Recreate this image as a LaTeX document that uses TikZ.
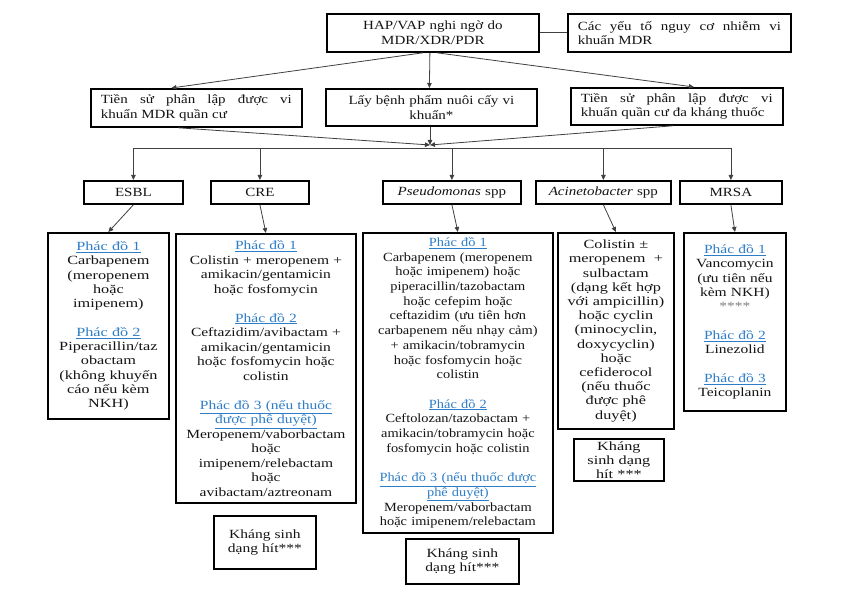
\documentclass[tikz,border=0pt]{standalone}
\usepackage{fontspec}
\setmainfont{Liberation Serif}[FakeStretch=1.15]
\newfontfamily\fS{Liberation Serif}[FakeStretch=1.2]
\newfontfamily\fC{Liberation Serif}[FakeStretch=1.24]
\newfontfamily\fE{Liberation Serif}[FakeStretch=1.3]
\usetikzlibrary{arrows.meta}
\definecolor{phblue}{RGB}{46,125,200}
\definecolor{txt}{RGB}{20,20,20}
\newcommand{\ph}[1]{\textcolor{phblue}{\underline{#1}}}
\begin{document}
\begin{tikzpicture}[x=1pt,y=-1pt,
  box/.style={draw=black, line width=1.8pt, inner xsep=5pt, inner ysep=2pt,
    font=\fontsize{12.5}{14.5}\selectfont, text=txt, align=center, anchor=north west},
  sbox/.style={box, font=\fontsize{12.5}{14.5}\selectfont\fS},
  wbox/.style={sbox, inner xsep=10pt, align=justify},
  arr/.style={draw=black!75, line width=0.8pt, -{Triangle[length=5pt,width=4.5pt]}},
  ln/.style={draw=black!75, line width=0.8pt}]
\useasboundingbox[fill=white] (0,0) rectangle (847,593);

% row 1
\node[sbox, minimum width=212, minimum height=38, text width=202] (hap) at (326,13)
  {HAP/VAP nghi ngờ do\\MDR/XDR/PDR};
\node[wbox, minimum width=223, minimum height=38, text width=203] (risk) at (567,13)
  {Các yếu tố nguy cơ nhiễm vi\linebreak khuẩn MDR};

% row 2
\node[wbox, minimum width=211, minimum height=38, text width=191] (l2) at (90,88)
  {Tiền sử phân lập được vi\linebreak khuẩn MDR quần cư};
\node[sbox, minimum width=211, minimum height=37, text width=201] (m2) at (325,88)
  {Lấy bệnh phẩm nuôi cấy vi\\khuẩn*};
\node[wbox, minimum width=212, minimum height=37, text width=192] (r2) at (570,87)
  {Tiền sử phân lập được vi\linebreak khuẩn quần cư đa kháng thuốc};

% junction and bus
\coordinate (J) at (430,145);
\coordinate (busY) at (0,148);

% row 3
\node[sbox, minimum width=99, minimum height=23, text width=89] (esbl) at (83,180) {ESBL};
\node[sbox, minimum width=98, minimum height=23, text width=88] (cre) at (210,180) {CRE};
\node[sbox, minimum width=138, minimum height=23, text width=128] (pse) at (382,180) {\textit{Pseudomonas} spp};
\node[sbox, minimum width=135, minimum height=23, text width=125] (aci) at (535,180) {\textit{Acinetobacter} spp};
\node[sbox, minimum width=102, minimum height=23, text width=92] (mrsa) at (679,180) {MRSA};

% row 4
\node[box, font=\fontsize{12.5}{14.3}\selectfont\fE, minimum width=121, minimum height=186, text width=111] (esblc) at (47,232)
  {\ph{Phác đồ 1}\\Carbapenem\\(meropenem\\hoặc\\imipenem)\\[14.3pt]
   \ph{Phác đồ 2}\\Piperacillin/taz\\obactam\\(không khuyến\\cáo nếu kèm\\NKH)};
\node[box, font=\fontsize{12.5}{14.5}\selectfont\fC, minimum width=180, minimum height=269, text width=170] (crec) at (175,233)
  {\ph{Phác đồ 1}\\Colistin + meropenem +\\amikacin/gentamicin\\hoặc fosfomycin\\[14.5pt]
   \ph{Phác đồ 2}\\Ceftazidim/avibactam +\\amikacin/gentamicin\\hoặc fosfomycin hoặc\\colistin\\[14.5pt]
   \ph{Phác đồ 3 (nếu thuốc}\\\ph{được phê duyệt)}\\Meropenem/vaborbactam\\hoặc\\imipenem/relebactam\\hoặc\\avibactam/aztreonam};
\node[box, font=\fontsize{12.5}{14.7}\selectfont, minimum width=190, minimum height=300, text width=180] (psec) at (362,232)
  {\ph{Phác đồ 1}\\Carbapenem (meropenem\\hoặc imipenem) hoặc\\piperacillin/tazobactam\\hoặc cefepim hoặc\\ceftazidim (ưu tiên hơn\\carbapenem nếu nhạy cảm)\\+ amikacin/tobramycin\\hoặc fosfomycin hoặc\\colistin\\[14.7pt]
   \ph{Phác đồ 2}\\Ceftolozan/tazobactam +\\amikacin/tobramycin hoặc\\fosfomycin hoặc colistin\\[14.7pt]
   \ph{Phác đồ 3 (nếu thuốc được}\\\ph{phê duyệt)}\\Meropenem/vaborbactam\\hoặc imipenem/relebactam};
\node[box, font=\fontsize{12.5}{14.2}\selectfont\fE, minimum width=116, minimum height=196, text width=106] (acic) at (557,232)
  {Colistin ±\\meropenem\ \ +\\sulbactam\\(dạng kết hợp\\với ampicillin)\\hoặc cyclin\\(minocyclin,\\doxycyclin)\\hoặc\\cefiderocol\\(nếu thuốc\\được phê\\duyệt)};
\node[box, font=\fontsize{12.5}{14.3}\selectfont\fC, minimum width=102, minimum height=178, text width=92] (mrsac) at (683,232)
  {\ph{Phác đồ 1}\\Vancomycin\\(ưu tiên nếu\\kèm NKH)\\\textcolor{gray}{****}\\[14.3pt]
   \ph{Phác đồ 2}\\Linezolid\\[14.3pt]
   \ph{Phác đồ 3}\\Teicoplanin};

% inhaled boxes
\node[box, font=\fontsize{12.5}{14.5}\selectfont\fC, minimum width=102, minimum height=53, text width=92] (creh) at (213,515)
  {Kháng sinh\\dạng hít***};
\node[box, font=\fontsize{12.5}{14.5}\selectfont\fC, minimum width=113, minimum height=45, text width=103] (pseh) at (405,538)
  {Kháng sinh\\dạng hít***};
\node[box, font=\fontsize{12.5}{14}\selectfont\fE, minimum width=90, minimum height=42, text width=80] (acih) at (573,438)
  {Kháng\\sinh dạng\\hít ***};

% connectors
\draw[ln] (hap.east) -- (risk.west);
\draw[arr] ([xshift=-10pt]hap.south) -- ([xshift=-25pt]l2.north);
\draw[arr] ([xshift=-3pt]hap.south) -- ([xshift=-2pt]m2.north);
\draw[arr] ([xshift=4pt]hap.south) -- ([xshift=17pt]r2.north);

\draw[arr] ([xshift=-18pt]l2.south) -- (J);
\draw[arr] (m2.south -| J) -- (J);
\draw[arr] ([xshift=-4pt]r2.south) -- (J);

\draw[ln] (esbl.north |- busY) -- (mrsa.north |- busY);
\foreach \b in {esbl,cre,pse,aci,mrsa}
  \draw[arr] (\b.north |- busY) -- (\b.north);

\draw[arr] (esbl.south) -- (esblc.north);
\draw[arr] (cre.south) -- (crec.north);
\draw[arr] (pse.south) -- (psec.north);
\draw[arr] (aci.south) -- (acic.north);
\draw[arr] (mrsa.south) -- (mrsac.north);
\end{tikzpicture}
\end{document}
